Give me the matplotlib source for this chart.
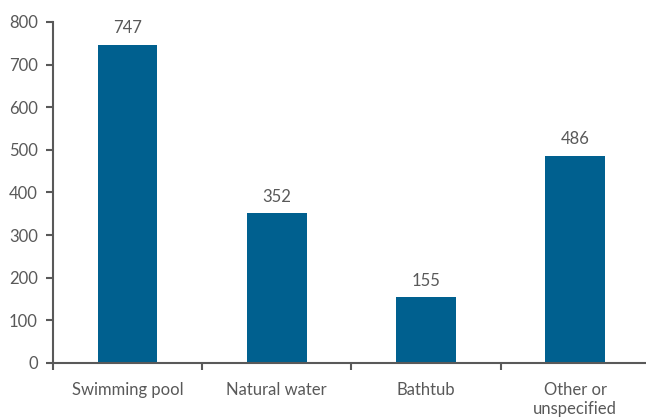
import matplotlib.pyplot as plt

categories = ["Swimming pool", "Natural water", "Bathtub", "Other or\nunspecified"]
values = [747, 352, 155, 486]

plt.rcParams['font.family'] = ['Lato', 'DejaVu Sans']
grey = "#595959"

fig = plt.figure(figsize=(6.46, 4.18), dpi=100)
ax = fig.add_axes([0.082, 0.1316, 0.924, 0.8158])

x = range(len(categories))
bars = ax.bar(x, values, width=0.4, color="#00608F", zorder=2)

for b, v in zip(bars, values):
    ax.annotate(str(v), (b.get_x() + b.get_width() / 2, v),
                xytext=(0, 6), textcoords="offset points",
                ha="center", va="bottom", fontsize=12, color=grey)

ax.set_xlim(-0.5, len(categories) - 0.5)
ax.set_ylim(0, 800)
ax.set_yticks(range(0, 801, 100))

ax.set_xticks(x)
ax.set_xticklabels(categories, fontsize=12, color=grey, linespacing=1.2)
ax.set_xticks([i - 0.5 for i in range(len(categories) + 1)], minor=True)
ax.tick_params(axis="x", which="major", length=0, pad=14)
ax.tick_params(axis="x", which="minor", length=5, width=1.5, color=grey, direction="out")
ax.tick_params(axis="y", length=5, width=1.5, color=grey, labelsize=12, labelcolor=grey, pad=6)

for s in ["top", "right"]:
    ax.spines[s].set_visible(False)
for s in ["left", "bottom"]:
    ax.spines[s].set_color(grey)
    ax.spines[s].set_linewidth(1.5)

fig.savefig("out.png", dpi=100)
